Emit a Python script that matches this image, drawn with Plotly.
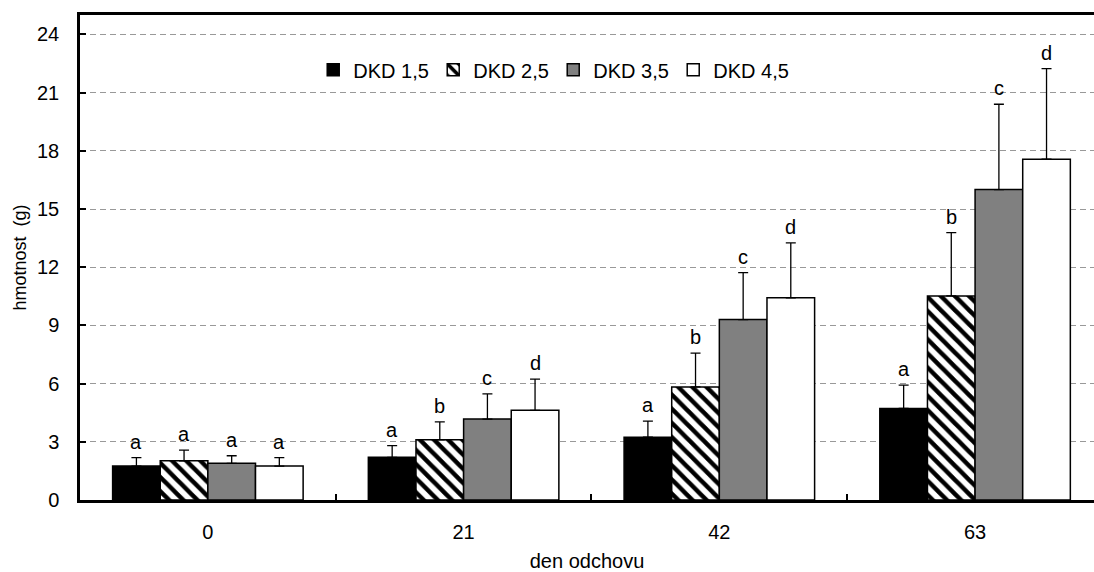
import plotly.graph_objects as go

categories = ["0", "21", "42", "63"]
series_names = ["DKD 1,5", "DKD 2,5", "DKD 3,5", "DKD 4,5"]
means = {
    "DKD 1,5": [1.75, 2.2, 3.24, 4.72],
    "DKD 2,5": [2.02, 3.1, 5.83, 10.52],
    "DKD 3,5": [1.89, 4.17, 9.3, 16.0],
    "DKD 4,5": [1.75, 4.62, 10.42, 17.57],
}
sds = {
    "DKD 1,5": [0.43, 0.6, 0.83, 1.2],
    "DKD 2,5": [0.55, 0.93, 1.74, 3.26],
    "DKD 3,5": [0.39, 1.3, 2.42, 4.4],
    "DKD 4,5": [0.43, 1.61, 2.83, 4.67],
}
letters = {
    "DKD 1,5": ["a", "a", "a", "a"],
    "DKD 2,5": ["a", "b", "b", "b"],
    "DKD 3,5": ["a", "c", "c", "c"],
    "DKD 4,5": ["a", "d", "d", "d"],
}
y_ticks = [0, 3, 6, 9, 12, 15, 18, 21, 24]

FONT = "Liberation Sans, Arial"
styles = {
    "DKD 1,5": dict(color="black"),
    "DKD 2,5": dict(color="white", pattern=dict(shape="\\", fgcolor="black", bgcolor="white",
                                                 size=10, solidity=0.45, fillmode="replace")),
    "DKD 3,5": dict(color="#808080"),
    "DKD 4,5": dict(color="white"),
}

bargap = 0.255
fig = go.Figure()
for name in series_names:
    fig.add_trace(go.Bar(
        name=name, x=categories, y=means[name],
        marker=dict(line=dict(color="black", width=1.5), **styles[name]),
        error_y=dict(type="data", array=sds[name], arrayminus=[0] * len(categories),
                     symmetric=False, color="black", thickness=1.3, width=5),
    ))

# letter annotations above error bars
n = len(series_names)
bw = (1 - bargap) / n
for si, name in enumerate(series_names):
    off = -(1 - bargap) / 2 + bw * (si + 0.5)
    for ci, cat in enumerate(categories):
        fig.add_annotation(
            x=ci + off, y=means[name][ci] + sds[name][ci], xref="x", yref="y",
            text=letters[name][ci], showarrow=False, yanchor="bottom", yshift=3,
            font=dict(family=FONT, size=20, color="black"),
        )

fig.update_layout(
    width=1094, height=572,
    margin=dict(l=80, r=0, t=15, b=72),
    plot_bgcolor="white", paper_bgcolor="white",
    barmode="group", bargap=bargap, bargroupgap=0,
    font=dict(family=FONT, size=20, color="black"),
    legend=dict(orientation="h", x=0.230, y=0.887, xanchor="left", yanchor="middle",
                font=dict(family=FONT, size=20, color="black"),
                entrywidthmode="pixels", entrywidth=75, itemwidth=30,
                bgcolor="rgba(0,0,0,0)", traceorder="normal"),
    showlegend=True,
)
fig.update_xaxes(
    type="category", range=[-0.5, 3.465],
    showline=True, linecolor="black", linewidth=2.5, mirror=True,
    ticks="inside", tickson="boundaries", ticklen=6, tickwidth=2, tickcolor="black",
    ticklabelstandoff=12,
    title=dict(text="den odchovu", font=dict(family=FONT, size=20), standoff=14),
    showgrid=False,
)
fig.update_yaxes(
    range=[0, 25], tickvals=y_ticks, ticktext=[str(v) for v in y_ticks],
    showline=True, linecolor="black", linewidth=2.5,
    ticks="inside", ticklen=6, tickwidth=2, tickcolor="black",
    ticklabelstandoff=14,
    showgrid=True, gridcolor="#999999", griddash="6px,4px", gridwidth=1,
    zeroline=False,
    title=dict(text="hmotnost  (g)", font=dict(family=FONT, size=18), standoff=6),
)

fig.write_html("out.html")
